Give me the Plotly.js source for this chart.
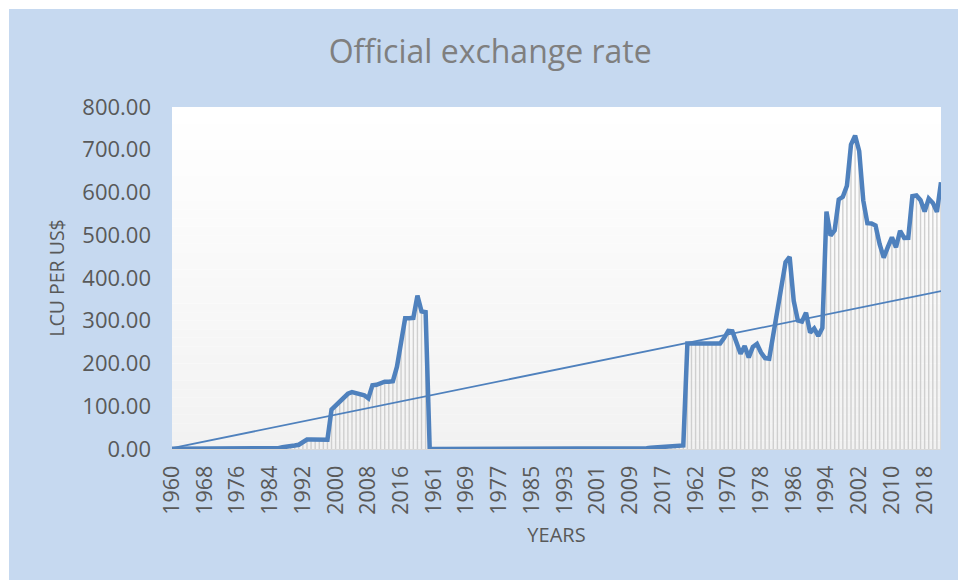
<!DOCTYPE html>
<html>
<head>
<meta charset="utf-8">
<script src="https://cdn.plot.ly/plotly-3.0.1.min.js"></script>
<style>
  html, body { margin: 0; padding: 0; background: #ffffff; width: 958px; height: 580px; overflow: hidden; }
  #chart { position: absolute; left: 9px; top: 9px; width: 949px; height: 571px; }
</style>
</head>
<body>
<div id="chart"></div>
<script>
// Years 1960-2022, repeated for each of the three concatenated series
const years = [];
for (let y = 1960; y <= 2022; y++) years.push(y);

// Series 1 (LCU per US$), 1960-2022
const series1 = [
  0.714, 0.714, 0.714, 0.714, 0.714, 0.714, 0.714, 0.714, 0.714, 0.714, 0.714, 0.714, 0.714,
  0.658, 0.630, 0.616, 0.627, 0.645, 0.635, 0.604, 0.547, 0.610, 0.673, 0.724, 0.767, 0.894,
  1.755, 4.016, 4.537, 7.365, 8.038, 9.909, 17.298, 22.065, 21.996, 21.895, 21.884, 21.886, 21.886,
  92.338, 101.697, 111.231, 120.578, 129.222, 132.888, 131.274, 128.652, 125.808, 118.546,
  148.902, 150.298, 153.862, 157.499, 157.311, 158.553, 192.440, 253.492, 305.790, 306.084,
  306.921, 358.811, 322.0, 320.0
];

// Series 2 (LCU per US$), 1960-2022
const series2 = [
  0.0000714, 0.0000714, 0.0000714, 0.0000714, 0.0000714, 0.0000714, 0.0000714,
  0.000102, 0.000102, 0.000102, 0.000102, 0.0001035, 0.0001268,
  0.000115, 0.000115, 0.000115, 0.000115, 0.000115, 0.000176,
  0.000275, 0.000275, 0.000275, 0.000275,
  0.00301, 0.00356, 0.00543, 0.00892, 0.01536, 0.02024, 0.02701, 0.03262, 0.03677, 0.04374,
  0.06497, 0.09567, 0.11996, 0.16375, 0.20508, 0.23145, 0.26693, 0.54491, 0.71630, 0.79239,
  0.86774, 0.90040, 0.90630, 0.91600, 0.93522, 1.05786, 1.40853, 1.43074, 1.51199, 1.79576,
  1.95294, 2.89970, 3.66851, 3.90963, 4.35057, 4.58524, 5.21734, 5.59580, 5.80565, 8.27
];

// Series 3 (LCU per US$), 1960-2022
const series3 = [
  246.85, 246.85, 246.85, 246.85, 246.85, 246.85, 246.85, 246.85, 246.85,
  259.96, 276.40, 275.36, 252.03, 222.89, 240.70, 214.31, 238.95, 245.68, 225.66, 212.72,
  211.28, 271.73, 328.61, 381.07, 436.96, 449.26, 346.31, 300.54, 297.85, 319.01,
  272.26, 282.11, 264.69, 283.16, 555.20, 499.15, 511.55, 583.67, 589.95, 615.70,
  711.98, 733.04, 696.99, 581.20, 528.28, 527.47, 522.89, 479.27, 447.81, 472.19,
  495.28, 471.87, 510.53, 493.90, 494.04, 591.21, 593.01, 582.09, 555.45, 585.91,
  575.59, 554.53, 623.76
];

const yTickVals = [0, 100, 200, 300, 400, 500, 600, 700, 800];
const labelStep = 8;

// ---- build combined category sequence ----
const values = series1.concat(series2, series3);
const categories = years.concat(years, years);
const idx = values.map((_, i) => i);

const tickVals = [], tickText = [];
for (let i = 0; i < categories.length; i += labelStep) {
  tickVals.push(i);
  tickText.push(String(categories[i]));
}

// Linear trendline (least squares, intercept set to 0, x = 1..n as in spreadsheet trendlines)
let sxy = 0, sxx = 0;
values.forEach((v, i) => { const x = i + 1; sxy += x * v; sxx += x * x; });
const slope = sxy / sxx;
const trend = idx.map(i => slope * (i + 1));

const blue = '#4f81bd';
const font = "'Open Sans', 'Noto Sans', sans-serif";
const textGray = '#595959';

// gradient plot background (white to light gray) built from stacked bands
const shapes = [];
const bands = 40;
for (let b = 0; b < bands; b++) {
  const t = b / (bands - 1);
  const c = Math.round(255 - 13 * (1 - t));
  shapes.push({
    type: 'rect', xref: 'paper', yref: 'paper', layer: 'below',
    x0: 0, x1: 1, y0: b / bands, y1: (b + 1) / bands,
    fillcolor: `rgb(${c},${c},${c})`, line: { width: 0 }
  });
}

const traces = [
  { // drop lines
    x: idx, y: values, type: 'scatter', mode: 'markers',
    marker: { size: 1, opacity: 0 },
    error_y: { type: 'data', symmetric: false, array: values.map(() => 0), arrayminus: values,
               color: '#cfcfcf', thickness: 1.4, width: 0 },
    hoverinfo: 'skip', showlegend: false
  },
  { // trendline
    x: idx, y: trend, type: 'scatter', mode: 'lines',
    line: { color: blue, width: 1.8 }, showlegend: false, hoverinfo: 'skip'
  },
  { // main series
    x: idx, y: values, type: 'scatter', mode: 'lines',
    line: { color: blue, width: 4.5 }, showlegend: false,
    text: categories.map(String), hovertemplate: '%{text}: %{y:.2f}<extra></extra>'
  }
];

const layout = {
  width: 949, height: 571,
  margin: { l: 163, r: 17, t: 98, b: 131 },
  paper_bgcolor: '#c6d9f0',
  plot_bgcolor: '#ffffff',
  shapes: shapes,
  showlegend: false,
  font: { family: font, color: textGray },
  title: {
    text: 'Official exchange rate',
    font: { family: font, size: 32, color: '#7f7f7f' },
    xref: 'container', x: 0.507, xanchor: 'center',
    yref: 'container', y: 1 - 43 / 571, yanchor: 'middle'
  },
  xaxis: {
    range: [0, values.length - 1],
    tickmode: 'array', tickvals: tickVals, ticktext: tickText,
    tickangle: -90,
    tickfont: { family: font, size: 21.5, color: textGray },
    ticks: '', ticklabelstandoff: 7,
    showgrid: false, zeroline: false,
    showline: true, linecolor: '#d9d9d9', linewidth: 1,
    title: { text: 'YEARS', font: { family: font, size: 20, color: textGray }, standoff: 14 }
  },
  yaxis: {
    range: [0, 800],
    tickmode: 'array', tickvals: yTickVals,
    tickformat: '.2f',
    tickfont: { family: font, size: 22, color: textGray },
    ticks: '', ticklabelstandoff: 20,
    showgrid: false, zeroline: false, showline: false,
    title: { text: 'LCU PER US$', font: { family: font, size: 19.5, color: textGray }, standoff: 12 }
  }
};

Plotly.newPlot('chart', traces, layout, { displayModeBar: false, staticPlot: true });
</script>
</body>
</html>
